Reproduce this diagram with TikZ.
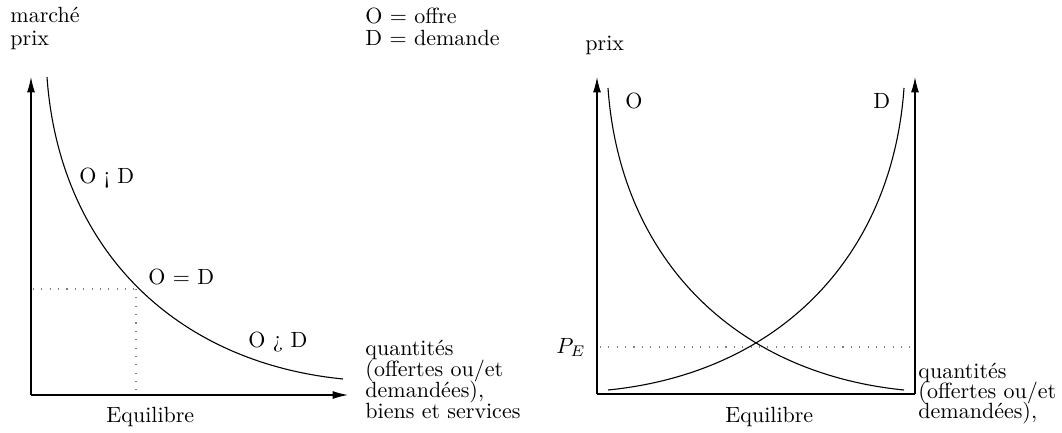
\documentclass[tikz,border=0pt]{standalone}
\usepackage{fontspec}
\usetikzlibrary{arrows.meta}
\newcommand\mycurve{\draw[curve] (47,77) .. controls (59,247) and (173,362) .. (343,379);}
\begin{document}
\begin{tikzpicture}[x=0.4545pt,y=-0.4545pt,
  axis/.style={line width=0.5pt,-{Latex[length=7pt,width=3.6pt]}},
  frame/.style={line width=0.5pt},
  curve/.style={line width=0.5pt},
  dots/.style={line width=0.5pt,gray,dash pattern=on 0.5pt off 3.3pt},
  lbl/.style={anchor=base west,inner sep=0pt,font=\normalsize}]
\useasboundingbox (0,0) rectangle (1062,432);
% ---- left diagram
\coordinate (LO) at (31,395);
\coordinate (LY) at (31,77);
\coordinate (LX) at (348,395);
\coordinate (Eq) at (136,289);
\coordinate (EqY) at (33,289);
\coordinate (EqX) at (136,395);
\draw[axis] (LO) -- (LY);
\draw[axis] (LO) -- (LX);
\mycurve
\draw[dots] (EqY) -- (Eq);
\draw[dots] (Eq) -- (EqX);
\node[lbl] (marche) at (10,22) {marché};
\node[lbl] (prixL) at (10,45) {prix};
\node[lbl] (leg1) at (365,23) {O $=$ offre};
\node[lbl] (leg2) at (365,45) {D $=$ demande};
\node[lbl] (lt) at (79,183) {O ¡ D};
\node[lbl] (eq) at (148,284) {O $=$ D};
\node[lbl] (gt) at (248,347) {O ¿ D};
\node[lbl] (q1) at (365,355) {quantités};
\node[lbl] (q2) at (365,376) {(offertes ou/et};
\node[lbl] (q3) at (365,397) {demandées),};
\node[lbl] (q4) at (365,418) {biens et services};
\node[lbl] (eqL) at (106,422) {Equilibre};
% ---- right diagram
\coordinate (RO) at (597,394);
\coordinate (RY) at (597,77);
\coordinate (RR) at (915,394);
\coordinate (RRY) at (915,77);
\coordinate (PEa) at (600,347);
\coordinate (PEb) at (914,347);
\draw[axis] (RO) -- (RY);
\draw[axis] (RR) -- (RRY);
\draw[frame] (RO) -- (RR);
\begin{scope}[shift={(561,11)}]
\mycurve
\end{scope}
\begin{scope}[shift={(951,11)},xscale=-1]
\mycurve
\end{scope}
\draw[dots] (PEa) -- (PEb);
\node[lbl] (prixR) at (585,50) {prix};
\node[lbl] (O) at (625,108) {O};
\node[lbl] (D) at (873,108) {D};
\node[lbl] (PE) at (556,353) {$P_E$};
\node[lbl] (r1) at (918,378) {quantités};
\node[lbl] (r2) at (918,398) {(offertes ou/et};
\node[lbl] (r3) at (918,418) {demandées),};
\node[lbl] (eqR) at (725,422) {Equilibre};
\end{tikzpicture}
\end{document}
